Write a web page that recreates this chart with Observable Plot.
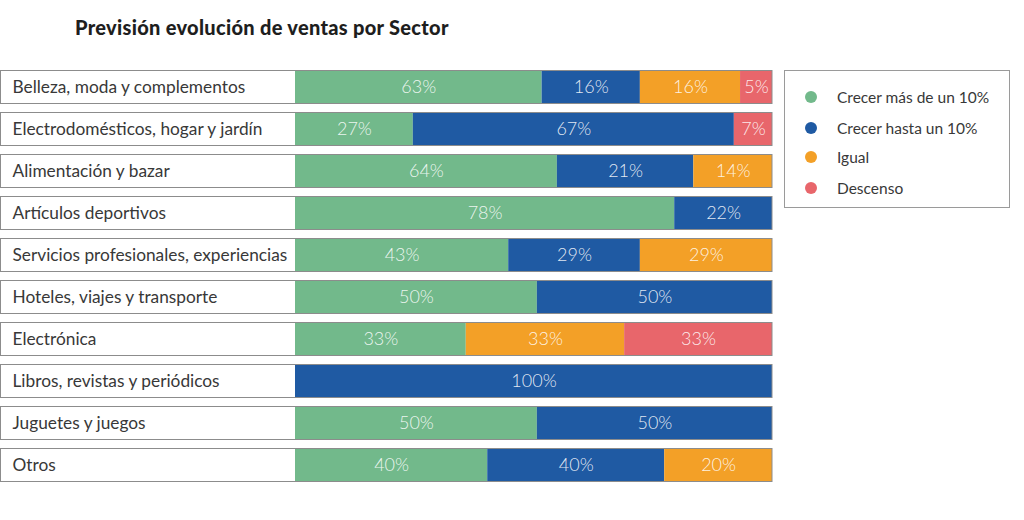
<!DOCTYPE html>
<html>
<head>
<meta charset="utf-8">
<script src="https://cdn.jsdelivr.net/npm/d3@7"></script>
<script src="https://cdn.jsdelivr.net/npm/@observablehq/plot@0.6"></script>
<style>
  html, body { margin: 0; padding: 0; background: #fff; }
  body { width: 1024px; height: 520px; position: relative; overflow: hidden; font-family: Lato, "Noto Sans", sans-serif; }
  #title { position: absolute; left: 75px; top: 15px; font-size: 20px; font-weight: 900; color: #1e1e1e; letter-spacing: 0.3px; }
  #chart { position: absolute; left: 0; top: 52px; }
  #legend { position: absolute; left: 784px; top: 70px; width: 224px; height: 136px; border: 1px solid #9a9a9a; box-sizing: content-box; }
  .item { position: absolute; left: 0; height: 20px; display: flex; align-items: center; font-size: 15.5px; color: #383838; }
  .dot { width: 12px; height: 12px; border-radius: 50%; margin-left: 20px; margin-right: 20px; }
</style>
</head>
<body>
<div id="title">Previsión evolución de ventas por Sector</div>
<div id="chart"></div>
<div id="legend"></div>
<script>
const sectors = [
  "Belleza, moda y complementos",
  "Electrodomésticos, hogar y jardín",
  "Alimentación y bazar",
  "Artículos deportivos",
  "Servicios profesionales, experiencias",
  "Hoteles, viajes y transporte",
  "Electrónica",
  "Libros, revistas y periódicos",
  "Juguetes y juegos",
  "Otros"
];
const series = ["Crecer más de un 10%", "Crecer hasta un 10%", "Igual", "Descenso"];
const colors = ["#72b98b", "#1f5aa3", "#f3a027", "#e8666b"];

// Percentages printed on the bars
const pctMas10     = [63, 27, 64, 78, 43, 50, 33,   0, 50, 40];
const pctHasta10   = [16, 67, 21, 22, 29, 50,  0, 100, 50, 40];
const pctIgual     = [16,  0, 14,  0, 29,  0, 33,   0,  0, 20];
const pctDescenso  = [ 5,  7,  0,  0,  0,  0, 33,   0,  0,  0];

// Segment lengths as drawn in the picture (% of the bar width)
const lenMas10     = [51.7, 24.7, 54.9, 79.5, 44.7, 50.7, 35.8,   0, 50.7, 40.3];
const lenHasta10   = [20.6, 67.3, 28.6, 20.5, 27.6, 49.3,    0, 100, 49.3, 37.1];
const lenIgual     = [21.0,    0, 16.5,    0, 27.7,    0, 33.2,   0,    0, 22.6];
const lenDescenso  = [ 6.7,  8.0,    0,    0,    0,    0, 31.0,   0,    0,    0];

const pctBySeries = [pctMas10, pctHasta10, pctIgual, pctDescenso];
const lenBySeries = [lenMas10, lenHasta10, lenIgual, lenDescenso];

const tidy = [];
sectors.forEach((s, i) => {
  series.forEach((k, j) => {
    if (lenBySeries[j][i] > 0) tidy.push({sector: s, series: k, len: lenBySeries[j][i], pct: pctBySeries[j][i]});
  });
});

const plot = Plot.plot({
  width: 1024,
  height: 468,
  marginLeft: 295,
  marginRight: 252,
  marginTop: 17,
  marginBottom: 36,
  style: {fontFamily: "Lato, 'Noto Sans', sans-serif", background: "transparent"},
  x: {domain: [0, 100], axis: null},
  y: {domain: sectors, axis: null, paddingInner: 0.185, paddingOuter: 0},
  color: {domain: series, range: colors},
  marks: [
    Plot.barX(tidy, Plot.stackX({x: "len", y: "sector", z: "series", fill: "series", order: series})),
    Plot.text(tidy, Plot.stackX({x: "len", y: "sector", z: "series", order: series,
      text: d => d.pct + "%", fill: "#ffffff", fillOpacity: 0.88, fontSize: 18, fontWeight: 300, dy: 0})),
    Plot.text(sectors, {y: d => d, text: d => d, frameAnchor: "left", textAnchor: "start",
      dx: -283, fontSize: 17.3, fill: "#383838"})
  ]
});

// Row frames (label cell + bar), positioned through the plot's own scales
const ys = plot.scale("y");
const xs = plot.scale("x");
const svg = d3.select(plot);
svg.append("g")
  .selectAll("rect")
  .data(sectors)
  .join("rect")
  .attr("x", 0.5)
  .attr("y", d => ys.apply(d) + 0.5)
  .attr("width", xs.range[1] - 0.5)
  .attr("height", ys.bandwidth - 1)
  .attr("fill", "none")
  .attr("stroke", "#8c8c8c")
  .attr("stroke-width", 1);

document.getElementById("chart").appendChild(plot);

// Legend
const legend = document.getElementById("legend");
const tops = [16, 47, 76, 107];
series.forEach((k, j) => {
  const item = document.createElement("div");
  item.className = "item";
  item.style.top = tops[j] + "px";
  const dot = document.createElement("span");
  dot.className = "dot";
  dot.style.background = colors[j];
  const lab = document.createElement("span");
  lab.textContent = k;
  item.appendChild(dot);
  item.appendChild(lab);
  legend.appendChild(item);
});
</script>
</body>
</html>
